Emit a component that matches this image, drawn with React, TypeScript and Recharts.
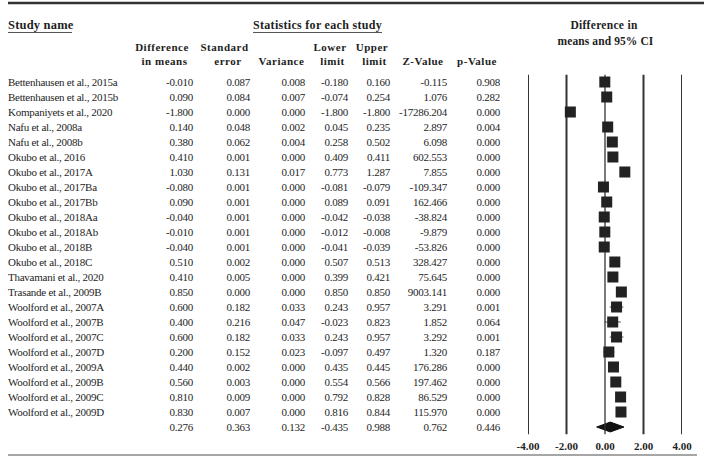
import { ComposedChart, Scatter, Area, XAxis, YAxis, ErrorBar } from "recharts";

const studies = [
    "Bettenhausen et al., 2015a", "Bettenhausen et al., 2015b", "Kompaniyets et al., 2020",
    "Nafu et al., 2008a", "Nafu et al., 2008b", "Okubo et al., 2016", "Okubo et al., 2017A",
    "Okubo et al., 2017Ba", "Okubo et al., 2017Bb", "Okubo et al., 2018Aa", "Okubo et al., 2018Ab",
    "Okubo et al., 2018B", "Okubo et al., 2018C", "Thavamani et al., 2020", "Trasande et al., 2009B",
    "Woolford et al., 2007A", "Woolford et al., 2007B", "Woolford et al., 2007C", "Woolford et al., 2007D",
    "Woolford et al., 2009A", "Woolford et al., 2009B", "Woolford et al., 2009C", "Woolford et al., 2009D",
    ""
];
// last entry in each list is the pooled summary row
const diffs = [-0.01, 0.09, -1.8, 0.14, 0.38, 0.41, 1.03, -0.08, 0.09, -0.04, -0.01, -0.04, 0.51, 0.41, 0.85, 0.6, 0.4, 0.6, 0.2, 0.44, 0.56, 0.81, 0.83, 0.276];
const stdErrs = [0.087, 0.084, 0.0, 0.048, 0.062, 0.001, 0.131, 0.001, 0.001, 0.001, 0.001, 0.001, 0.002, 0.005, 0.0, 0.182, 0.216, 0.182, 0.152, 0.002, 0.003, 0.009, 0.007, 0.363];
const variances = [0.008, 0.007, 0.0, 0.002, 0.004, 0.0, 0.017, 0.0, 0.0, 0.0, 0.0, 0.0, 0.0, 0.0, 0.0, 0.033, 0.047, 0.033, 0.023, 0.0, 0.0, 0.0, 0.0, 0.132];
const lowers = [-0.18, -0.074, -1.8, 0.045, 0.258, 0.409, 0.773, -0.081, 0.089, -0.042, -0.012, -0.041, 0.507, 0.399, 0.85, 0.243, -0.023, 0.243, -0.097, 0.435, 0.554, 0.792, 0.816, -0.435];
const uppers = [0.16, 0.254, -1.8, 0.235, 0.502, 0.411, 1.287, -0.079, 0.091, -0.038, -0.008, -0.039, 0.513, 0.421, 0.85, 0.957, 0.823, 0.957, 0.497, 0.445, 0.566, 0.828, 0.844, 0.988];
const zValues = [-0.115, 1.076, -17286.204, 2.897, 6.098, 602.553, 7.855, -109.347, 162.466, -38.824, -9.879, -53.826, 328.427, 75.645, 9003.141, 3.291, 1.852, 3.292, 1.32, 176.286, 197.462, 86.529, 115.97, 0.762];
const pValues = [0.908, 0.282, 0.0, 0.004, 0.0, 0.0, 0.0, 0.0, 0.0, 0.0, 0.0, 0.0, 0.0, 0.0, 0.0, 0.001, 0.064, 0.001, 0.187, 0.0, 0.0, 0.0, 0.0, 0.446];
const xTicks = [-4, -2, 0, 2, 4];

const FONT = "'Liberation Serif', 'Times New Roman', serif";
const INK = "#1e1e1e";
const last = studies.length - 1;

const studyPoints = studies.slice(0, last).map((name, i) => ({
    name,
    y: i,
    x: diffs[i],
    err: [diffs[i] - lowers[i], uppers[i] - diffs[i]]
}));

const diamond = [
    { x: lowers[last], band: [last, last] },
    { x: diffs[last], band: [last - 0.33, last + 0.33] },
    { x: uppers[last], band: [last, last] }
];

// vertical guide at each tick, spanning all rows
const guides = xTicks.map(t => [{ x: t, y: -0.5 }, { x: t, y: last + 0.5 }]);

const columns = [
    { values: diffs, right: 193 },
    { values: stdErrs, right: 250 },
    { values: variances, right: 305 },
    { values: lowers, right: 348 },
    { values: uppers, right: 390 },
    { values: zValues, right: 447 },
    { values: pValues, right: 500 }
];

const headers = [
    { text: "Difference", x: 162, y: 47 }, { text: "in means", x: 164.5, y: 61 },
    { text: "Standard", x: 224.5, y: 47 }, { text: "error", x: 228, y: 61 },
    { text: "Variance", x: 281.5, y: 61 },
    { text: "Lower", x: 330, y: 47 }, { text: "limit", x: 332.5, y: 61 },
    { text: "Upper", x: 372, y: 47 }, { text: "limit", x: 374.5, y: 61 },
    { text: "Z-Value", x: 423, y: 61 },
    { text: "p-Value", x: 477, y: 61 }
];

const RowTick = (props: any) => {
    const { y, payload } = props;
    const i = payload.value;
    return (
        <g fontFamily={FONT} fontSize={11} fill={INK} letterSpacing={-0.25}>
            <text x={8} y={y} dy={4}>{studies[i]}</text>
            {columns.map((c, k) => (
                <text key={k} x={c.right} y={y} dy={4} textAnchor="end">{c.values[i].toFixed(3)}</text>
            ))}
        </g>
    );
};

const AxisTick = (props: any) => {
    const { x, y, payload } = props;
    return (
        <text x={x} y={y} dy={7} textAnchor="middle" fontFamily={FONT} fontSize={11} fontWeight="bold" fill={INK}>
            {Number(payload.value).toFixed(2)}
        </text>
    );
};

const Square = (props: any) => {
    const { cx, cy } = props;
    return <rect x={cx - 5.5} y={cy - 5.5} width={11} height={11} fill="#222" />;
};

const NoDot = () => <g />;

function App() {
    return (
        <div style={{ position: "absolute", left: 0, top: 0, width: 709, height: 464, background: "#fff" }}>
            <ComposedChart width={709} height={464} margin={{ top: 74.5, right: 27, bottom: 0, left: 0 }}>
                <XAxis
                    type="number"
                    dataKey="x"
                    domain={[-4, 4]}
                    ticks={xTicks}
                    axisLine={false}
                    tickLine={false}
                    height={29.5}
                    allowDataOverflow
                    tick={<AxisTick />}
                />
                <YAxis
                    type="number"
                    dataKey="y"
                    domain={[-0.5, last + 0.5]}
                    ticks={studies.map((_, i) => i)}
                    interval={0}
                    reversed
                    axisLine={false}
                    tickLine={false}
                    width={528}
                    allowDataOverflow
                    tick={<RowTick />}
                />
                {guides.map((g, k) => (
                    <Scatter
                        key={"g" + k}
                        data={g}
                        line={{ stroke: "#333", strokeWidth: xTicks[k] === 0 ? 1.3 : 2 }}
                        shape={<NoDot />}
                        isAnimationActive={false}
                    />
                ))}
                <Area
                    data={diamond}
                    dataKey="band"
                    type="linear"
                    stroke="#111"
                    fill="#111"
                    fillOpacity={1}
                    isAnimationActive={false}
                />
                <Scatter data={studyPoints} shape={<Square />} isAnimationActive={false}>
                    <ErrorBar dataKey="err" direction="x" width={0} stroke="#555" strokeWidth={1} />
                </Scatter>
            </ComposedChart>
            <svg width={709} height={464} style={{ position: "absolute", left: 0, top: 0, pointerEvents: "none" }}>
                <line x1={8} x2={704} y1={3} y2={3} stroke="#333" strokeWidth={2.5} />
                <line x1={8} x2={697} y1={455} y2={455} stroke="#888" strokeWidth={1.5} />
                <g fontFamily={FONT} fontWeight="bold" fill={INK}>
                    <text x={8} y={29} fontSize={12.5} letterSpacing={0.2}>Study name</text>
                    <line x1={8} x2={72} y1={32.5} y2={32.5} stroke="#555" strokeWidth={1} />
                    <text x={317.5} y={29} fontSize={12} letterSpacing={0.3} textAnchor="middle">Statistics for each study</text>
                    <line x1={253} x2={382} y1={32.5} y2={32.5} stroke="#555" strokeWidth={1} />
                    {headers.map((h, k) => (
                        <text key={k} x={h.x} y={h.y + 4} fontSize={11} letterSpacing={0.5} textAnchor="middle">{h.text}</text>
                    ))}
                    <text x={604} y={29} fontSize={11.5} letterSpacing={0.3} textAnchor="middle">Difference in</text>
                    <text x={605.5} y={45} fontSize={11.5} letterSpacing={0.1} textAnchor="middle">means and 95% CI</text>
                </g>
            </svg>
        </div>
    );
}

export default App;
